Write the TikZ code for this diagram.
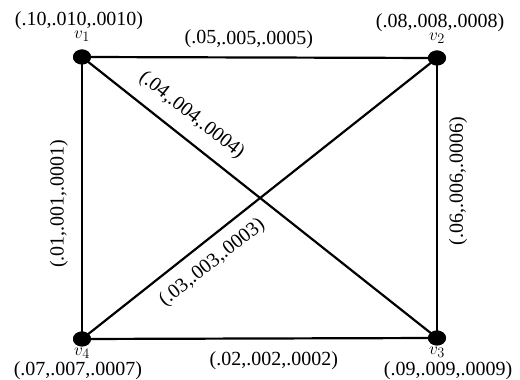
\documentclass[tikz,border=0pt]{standalone}
\usepackage{fontspec}
\setmainfont{Liberation Serif}
\usetikzlibrary{shapes.geometric}
\begin{document}
\begin{tikzpicture}[x=1pt,y=1pt,
  vtx/.style={ellipse,fill=black,inner sep=0pt,minimum width=18pt,minimum height=15pt},
  edge/.style={line width=2.2pt},
  tup/.style={inner sep=0pt,font=\fontsize{20}{23}\selectfont},
  elab/.style={inner sep=0pt,font=\fontsize{20}{23}\selectfont,sloped},
  vlab/.style={inner sep=0pt,font=\fontsize{20}{23}\selectfont,sloped,allow upside down},
  vname/.style={inner sep=0pt,font=\fontsize{19}{21}\selectfont}]
\useasboundingbox (0,0) rectangle (520,380);
\node[vtx] (v1) at (82,323) {};
\node[vtx] (v2) at (437,322) {};
\node[vtx] (v3) at (437,42) {};
\node[vtx] (v4) at (82,41) {};
% vertex names and weights
\node[vname] (n1) at ([yshift=21pt]v1.center) {$v_1$};
\node[tup]   (t1) at ([xshift=-3pt,yshift=36pt]v1.center) {(.10,.010,.0010)};
\node[vname] (n2) at ([yshift=20pt]v2.center) {$v_2$};
\node[tup]   (t2) at ([xshift=3pt,yshift=35pt]v2.center) {(.08,.008,.0008)};
\node[vname] (n3) at ([yshift=-14pt]v3.center) {$v_3$};
\node[tup]   (t3) at ([xshift=11pt,yshift=-33pt]v3.center) {(.09,.009,.0009)};
\node[vname] (n4) at ([yshift=-14pt]v4.center) {$v_4$};
\node[tup]   (t4) at ([xshift=-4pt,yshift=-32pt]v4.center) {(.07,.007,.0007)};
% edges
\draw[edge] (v1.center) -- node[elab,pos=0.47,above=8pt] {(.05,.005,.0005)} (v2.center);
\draw[edge] (v3.center) -- node[vlab,pos=0.56,below=11pt] {(.06,.006,.0006)} (v2.center);
\draw[edge] (v4.center) -- node[elab,pos=0.54,below=12pt] {(.02,.002,.0002)} (v3.center);
\draw[edge] (v4.center) -- node[vlab,pos=0.48,above=13pt] {(.01,.001,.0001)} (v1.center);
\draw[edge] (v1.center) -- node[elab,pos=0.27,above=12pt] {(.04,.004,.0004)} (v3.center);
\draw[edge] (v4.center) -- node[elab,pos=0.33,below=11pt] {(.03,.003,.0003)} (v2.center);
\node[vtx] at (v1) {};
\node[vtx] at (v2) {};
\node[vtx] at (v3) {};
\node[vtx] at (v4) {};
\end{tikzpicture}
\end{document}
